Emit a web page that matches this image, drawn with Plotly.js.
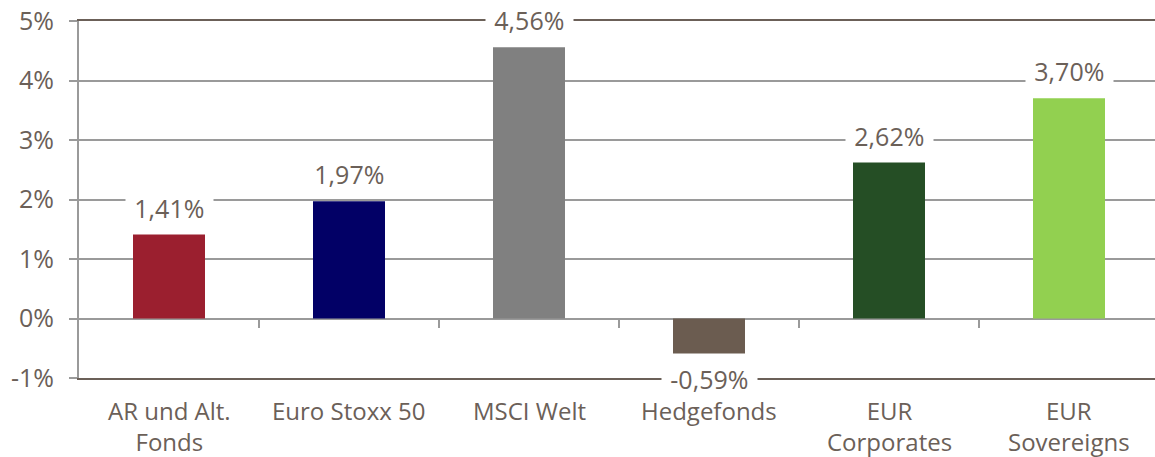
<!DOCTYPE html>
<html><head><meta charset="utf-8">
<script src="https://cdn.plot.ly/plotly-3.0.1.min.js"></script>
<style>body{margin:0;padding:0;background:#fff}#chart{width:1155px;height:457px}</style>
</head><body><div id="chart"></div>
<script>
const categories = ["AR und Alt.<br>Fonds", "Euro Stoxx 50", "MSCI Welt", "Hedgefonds", "EUR<br>Corporates", "EUR<br>Sovereigns"];
const values = [1.41, 1.97, 4.56, -0.59, 2.62, 3.70];
const barColors = ["#9b1f2f", "#020066", "#808080", "#6b5c50", "#254e25", "#92d050"];
const yTicks = [-1, 0, 1, 2, 3, 4, 5];

const textColor = "#6b6058";
const gridColor = "#9a9a9a";
const fam = "'Open Sans', Lato, sans-serif";
const font = {family: fam, size: 25, color: textColor};
const catFont = {family: fam, size: 24, color: textColor};
const pad = "\u2004";

const idx = categories.map((c, i) => i);

const traces = [{
  type: "bar", x: idx, y: values,
  marker: {color: barColors, line: {width: 0}},
  width: 0.4, hoverinfo: "skip", cliponaxis: false
}, {
  type: "scatter", x: idx, y: values, xaxis: "x2", mode: "markers",
  marker: {opacity: 0}, hoverinfo: "skip", showlegend: false
}];

const annotations = values.map((v, i) => ({
  x: i, y: v, xref: "x", yref: "y",
  text: pad + v.toFixed(2).replace(".", ",") + "%" + pad,
  showarrow: false, yanchor: "middle",
  yshift: v >= 0 ? 27 : -25,
  bgcolor: "#ffffff", borderpad: 0,
  font: font
}));

categories.forEach((c, i) => {
  annotations.push({
    x: i, y: 0, xref: "x", yref: "paper",
    text: c, showarrow: false, yanchor: "top", valign: "top",
    yshift: -14, font: catFont
  });
});

const layout = {
  width: 1155, height: 457,
  margin: {l: 79, r: 0, t: 21, b: 79},
  paper_bgcolor: "#ffffff", plot_bgcolor: "#ffffff",
  showlegend: false, font: font,
  xaxis: {
    type: "linear", range: [-0.5, 5.5 - 4/180],
    tickvals: idx, showticklabels: false,
    showgrid: false, zeroline: false,
    showline: true, linecolor: "#6b6058", linewidth: 2, mirror: true,
    ticks: ""
  },
  xaxis2: {
    type: "linear", overlaying: "x", anchor: "free", position: 1/6,
    range: [-0.5, 5.5 - 4/180],
    tickvals: [0.5, 1.5, 2.5, 3.5, 4.5],
    showticklabels: false, showgrid: false, zeroline: false, showline: false,
    ticks: "outside", ticklen: 8, tickwidth: 2, tickcolor: gridColor
  },
  yaxis: {
    range: [-1, 5], tickvals: yTicks, ticktext: yTicks.map(t => t + "%"),
    showgrid: true, gridcolor: gridColor, gridwidth: 2,
    zeroline: false,
    showline: true, linecolor: gridColor, linewidth: 2,
    ticks: "outside", ticklen: 8, tickwidth: 2, tickcolor: gridColor,
    tickfont: font, ticklabelstandoff: 10
  },
  annotations: annotations
};

Plotly.newPlot("chart", traces, layout, {staticPlot: true, displayModeBar: false});
</script></body></html>
